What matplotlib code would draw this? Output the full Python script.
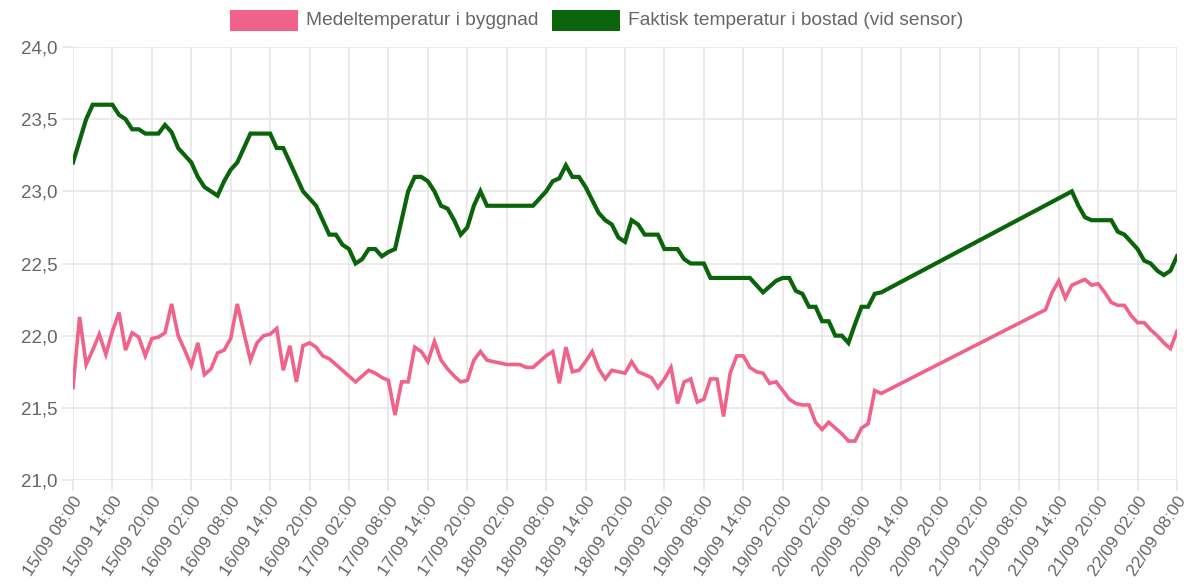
import matplotlib
matplotlib.use("Agg")
import matplotlib.pyplot as plt
from matplotlib.patches import Rectangle

# ---------------- data ----------------
tick_labels = [
    "15/09 08:00", "15/09 14:00", "15/09 20:00", "16/09 02:00", "16/09 08:00",
    "16/09 14:00", "16/09 20:00", "17/09 02:00", "17/09 08:00", "17/09 14:00",
    "17/09 20:00", "18/09 02:00", "18/09 08:00", "18/09 14:00", "18/09 20:00",
    "19/09 02:00", "19/09 08:00", "19/09 14:00", "19/09 20:00", "20/09 02:00",
    "20/09 08:00", "20/09 14:00", "20/09 20:00", "21/09 02:00", "21/09 08:00",
    "21/09 14:00", "21/09 20:00", "22/09 02:00", "22/09 08:00",
]
tick_hours = list(range(0, 169, 6))

# hours after 15/09 08:00 (no readings between 20/09 ~08:00 and 21/09 ~12:00)
pink_hours = list(range(0, 124)) + list(range(148, 169))
pink_values = [
    21.64, 22.13, 21.80, 21.90, 22.01, 21.87, 22.03, 22.16, 21.90, 22.02,
    21.99, 21.86, 21.98, 21.99, 22.02, 22.22, 22.00, 21.90, 21.79, 21.95,
    21.73, 21.77, 21.88, 21.90, 21.98, 22.22, 22.02, 21.83, 21.95, 22.00,
    22.01, 22.05, 21.76, 21.93, 21.68, 21.93, 21.95, 21.92, 21.86, 21.84,
    21.80, 21.76, 21.72, 21.68, 21.72, 21.76, 21.74, 21.71, 21.69, 21.45,
    21.68, 21.68, 21.92, 21.89, 21.82, 21.96, 21.83, 21.77, 21.72, 21.68,
    21.69, 21.83, 21.89, 21.83, 21.82, 21.81, 21.80, 21.80, 21.80, 21.78,
    21.78, 21.82, 21.86, 21.89, 21.67, 21.92, 21.75, 21.76, 21.82, 21.89,
    21.77, 21.70, 21.76, 21.75, 21.74, 21.82, 21.75, 21.73, 21.71, 21.64,
    21.70, 21.78, 21.53, 21.68, 21.70, 21.54, 21.56, 21.70, 21.70, 21.44,
    21.74, 21.86, 21.86, 21.78, 21.75, 21.74, 21.67, 21.68, 21.62, 21.56,
    21.53, 21.52, 21.52, 21.40, 21.35, 21.40, 21.36, 21.32, 21.27, 21.27,
    21.36, 21.39, 21.62, 21.60,
    22.18, 22.30, 22.38, 22.26, 22.35, 22.37, 22.39, 22.35, 22.36, 22.30,
    22.23, 22.21, 22.21, 22.14, 22.09, 22.09, 22.04, 22.00, 21.95, 21.91,
    22.03,
]

green_hours = list(range(0, 124)) + list(range(152, 169))
green_values = [
    23.20, 23.35, 23.50, 23.60, 23.60, 23.60, 23.60, 23.53, 23.50, 23.43,
    23.43, 23.40, 23.40, 23.40, 23.46, 23.41, 23.30, 23.25, 23.20, 23.10,
    23.03, 23.00, 22.97, 23.07, 23.15, 23.20, 23.30, 23.40, 23.40, 23.40,
    23.40, 23.30, 23.30, 23.20, 23.10, 23.00, 22.95, 22.90, 22.80, 22.70,
    22.70, 22.63, 22.60, 22.50, 22.53, 22.60, 22.60, 22.55, 22.58, 22.60,
    22.80, 23.00, 23.10, 23.10, 23.07, 23.00, 22.90, 22.88, 22.80, 22.70,
    22.75, 22.90, 23.00, 22.90, 22.90, 22.90, 22.90, 22.90, 22.90, 22.90,
    22.90, 22.95, 23.00, 23.07, 23.09, 23.18, 23.10, 23.10, 23.03, 22.94,
    22.85, 22.80, 22.77, 22.68, 22.65, 22.80, 22.77, 22.70, 22.70, 22.70,
    22.60, 22.60, 22.60, 22.53, 22.50, 22.50, 22.50, 22.40, 22.40, 22.40,
    22.40, 22.40, 22.40, 22.40, 22.35, 22.30, 22.34, 22.38, 22.40, 22.40,
    22.31, 22.29, 22.20, 22.20, 22.10, 22.10, 22.00, 22.00, 21.95, 22.08,
    22.20, 22.20, 22.29, 22.30,
    23.00, 22.90, 22.82, 22.80, 22.80, 22.80, 22.80, 22.72, 22.70, 22.65,
    22.60, 22.52, 22.50, 22.45, 22.42, 22.45, 22.55,
]

y_ticks = [21.0, 21.5, 22.0, 22.5, 23.0, 23.5, 24.0]
series_names = ["Medeltemperatur i byggnad", "Faktisk temperatur i bostad (vid sensor)"]

# ---------------- style ----------------
PINK = "#f0628a"
GREEN = "#0a640a"
GRID = "#e6e6e6"
TXT = "#666666"

W, H = 1192, 586
fig = plt.figure(figsize=(W / 100, H / 100), dpi=100)
plt.rcParams["font.family"] = ["Liberation Sans", "DejaVu Sans"]

left, right, top, bottom = 73, 1177, 47, 480
ax = fig.add_axes([left / W, 1 - bottom / H, (right - left) / W, (bottom - top) / H])

ax.plot(pink_hours, pink_values, color=PINK, lw=2.6, solid_joinstyle="miter", zorder=3)
ax.plot(green_hours, green_values, color=GREEN, lw=3.0, solid_joinstyle="miter", zorder=4)

ax.set_xlim(0, 168)
ax.set_ylim(21.0, 24.0)
ax.set_xticks(tick_hours)
ax.set_xticklabels(tick_labels, rotation=56, ha="right", va="top", rotation_mode="anchor",
                   fontsize=12.6, color=TXT)
ax.set_yticks(y_ticks)
ax.set_yticklabels([f"{v:.1f}".replace(".", ",") for v in y_ticks], fontsize=13.5, color=TXT)
ax.grid(True, color=GRID, lw=1.2, zorder=0)
ax.tick_params(axis="both", length=8, width=1.2, color=GRID, pad=3)
ax.tick_params(axis="x", pad=2)
for s in ax.spines.values():
    s.set_visible(False)

# legend (Chart.js style)
def legend_item(x0, color, label):
    fig.add_artist(Rectangle((x0 / W, 1 - 31 / H), 68 / W, 21 / H,
                             transform=fig.transFigure, facecolor=color,
                             edgecolor=color, lw=0))
    fig.text((x0 + 76) / W, 1 - 20.5 / H, label, fontsize=13.8, color=TXT,
             ha="left", va="center")

legend_item(230, PINK, series_names[0])
legend_item(552, GREEN, series_names[1])

fig.savefig("out.png", dpi=100)
